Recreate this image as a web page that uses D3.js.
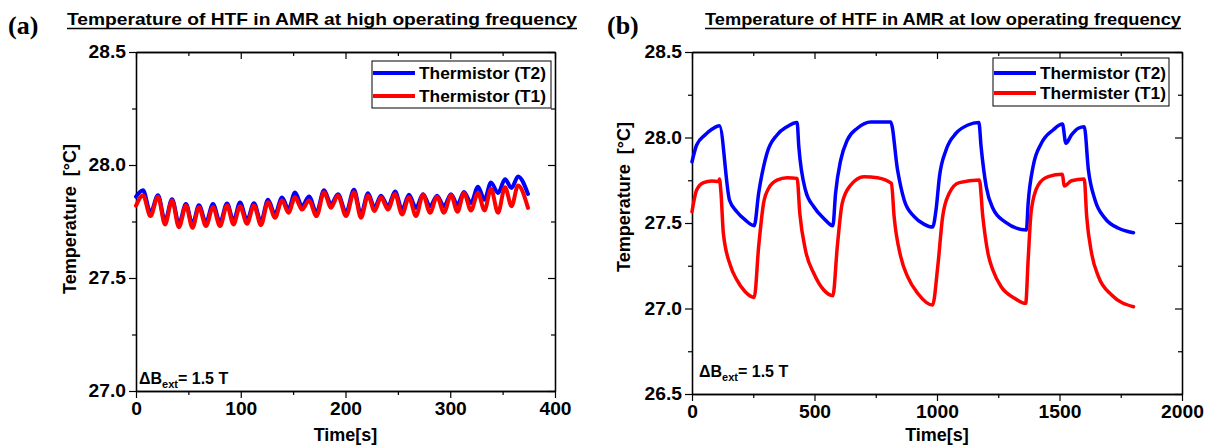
<!DOCTYPE html>
<html>
<head>
<meta charset="utf-8">
<script src="https://cdn.jsdelivr.net/npm/d3@7"></script>
<style>
    body { margin: 0; background: #fff; }
    svg { display: block; font-family: "Liberation Sans", Arial, sans-serif; }
</style>
</head>
<body>
<svg id="chart" width="1207" height="446"></svg>
<script>
// (a) high operating frequency - at peaks / troughs
const timeA = [0, 6.7, 13.8, 21.0, 27.7, 34.4, 41.0, 47.7, 53.9, 60.1,
    66.8, 73.5, 80.2, 86.9, 93.1, 99.3, 106.0, 112.6, 119.3, 126.0,
    132.7, 139.4, 145.6, 151.8, 158.5, 165.2, 172.3, 179.5, 186.2, 192.8,
    200.5, 208.1, 214.8, 221.5, 227.7, 233.9, 240.6, 247.3, 254.0, 260.6,
    267.3, 274.0, 280.7, 287.4, 294.0, 300.7, 306.9, 313.1, 319.8, 326.5,
    332.7, 338.9, 345.6, 352.3, 358.5, 364.7, 374.2]
const t2A = [27.860, 27.888, 27.789, 27.866, 27.752, 27.849, 27.740, 27.827, 27.737, 27.822,
    27.745, 27.827, 27.745, 27.830, 27.752, 27.834, 27.755, 27.831, 27.749, 27.846,
    27.782, 27.856, 27.804, 27.878, 27.818, 27.861, 27.789, 27.888, 27.826, 27.871,
    27.789, 27.890, 27.782, 27.875, 27.811, 27.864, 27.817, 27.883, 27.802, 27.868,
    27.810, 27.871, 27.817, 27.864, 27.817, 27.871, 27.824, 27.881, 27.832, 27.904,
    27.846, 27.923, 27.876, 27.937, 27.898, 27.949, 27.872]
const t1A = [27.820, 27.865, 27.774, 27.860, 27.737, 27.843, 27.725, 27.821, 27.722, 27.813,
    27.730, 27.813, 27.730, 27.821, 27.737, 27.817, 27.740, 27.821, 27.734, 27.835,
    27.767, 27.843, 27.789, 27.857, 27.803, 27.843, 27.774, 27.879, 27.811, 27.865,
    27.774, 27.879, 27.767, 27.865, 27.796, 27.857, 27.803, 27.872, 27.781, 27.857,
    27.774, 27.869, 27.789, 27.860, 27.789, 27.867, 27.793, 27.876, 27.799, 27.876,
    27.799, 27.894, 27.789, 27.902, 27.818, 27.909, 27.810]

// (b) low operating frequency
const timeB2 = [0, 19, 53, 81, 112, 153, 183, 217, 254, 272, 306, 347, 388, 429, 436,
    463, 497, 538, 575, 586, 607, 634, 675, 730, 811, 839, 866, 907, 948, 982,
    996, 1010, 1037, 1078, 1126, 1171, 1180, 1201, 1228, 1276, 1365, 1372, 1392, 1426, 1474,
    1512, 1526, 1549, 1577, 1601, 1618, 1645, 1686, 1741, 1802]
const t2B = [27.858, 27.956, 28.015, 28.048, 28.069, 27.635, 27.566, 27.518, 27.484, 27.674,
    27.908, 28.015, 28.063, 28.087, 27.946, 27.693, 27.595, 27.527, 27.484, 27.674,
    27.868, 27.985, 28.054, 28.091, 28.091, 27.810, 27.635, 27.537, 27.492, 27.476,
    27.576, 27.771, 27.927, 28.025, 28.073, 28.087, 27.946, 27.712, 27.586, 27.508,
    27.459, 27.615, 27.829, 27.966, 28.044, 28.079, 27.966, 28.015, 28.054, 28.063,
    27.810, 27.635, 27.527, 27.469, 27.443]
const timeB1 = [0, 19, 47, 81, 108, 112, 118, 128, 156, 183,
    217, 254, 272, 292, 313, 347, 388, 429, 440, 463,
    497, 538, 575, 593, 613, 648, 702, 757, 814, 825,
    852, 880, 921, 982, 1003, 1023, 1050, 1091, 1173, 1187,
    1208, 1228, 1262, 1317, 1362, 1372, 1385, 1413, 1454, 1512,
    1519, 1549, 1601, 1611, 1631, 1659, 1713, 1802]
const t1B = [27.566, 27.693, 27.736, 27.746, 27.742, 27.757, 27.683, 27.440, 27.254, 27.167,
    27.098, 27.065, 27.361, 27.615, 27.703, 27.751, 27.765, 27.761, 27.557, 27.342,
    27.206, 27.108, 27.075, 27.361, 27.615, 27.722, 27.771, 27.765, 27.732, 27.537,
    27.303, 27.186, 27.089, 27.020, 27.244, 27.537, 27.674, 27.736, 27.751, 27.537,
    27.323, 27.225, 27.127, 27.060, 27.030, 27.284, 27.576, 27.722, 27.771, 27.785,
    27.716, 27.747, 27.757, 27.537, 27.323, 27.186, 27.079, 27.010]

const xTicksA = [0, 100, 200, 300, 400]
const xMinorA = [50, 150, 250, 350]
const yTicksA = [27.0, 27.5, 28.0, 28.5]
const yMinorA = [27.25, 27.75, 28.25]
const xTicksB = [0, 500, 1000, 1500, 2000]
const xMinorB = [250, 750, 1250, 1750]
const yTicksB = [26.5, 27.0, 27.5, 28.0, 28.5]
const yMinorB = [26.75, 27.25, 27.75, 28.25]

const svg = d3.select('#chart')

drawPanel({
    left: 136, right: 555, top: 52, bottom: 391,
    xDomain: [0, 400], yDomain: [27.0, 28.5],
    xTicks: xTicksA, xMinor: xMinorA, yTicks: yTicksA, yMinor: yMinorA,
    series: [
        { t: timeA, v: t2A, color: '#0000ff' },
        { t: timeA, v: t1A, color: '#ff0000' }
    ],
    lineWidth: 4,
    letter: '(a)', letterX: 8,
    title: 'Temperature of HTF in AMR at high operating frequency', titleX: 67, titleW: 510,
    legend: { x: 372, y: 61, w: 179, h: 47, rows: [73, 96], textW: 127, names: ['Thermistor (T2)', 'Thermistor (T1)'] },
    yTitleX: 70, yTitleY: 219,
    noteX: 139, noteY: 384
})

drawPanel({
    left: 692, right: 1182, top: 52, bottom: 394,
    xDomain: [0, 2000], yDomain: [26.5, 28.5],
    xTicks: xTicksB, xMinor: xMinorB, yTicks: yTicksB, yMinor: yMinorB,
    series: [
        { t: timeB2, v: t2B, color: '#0000ff' },
        { t: timeB1, v: t1B, color: '#ff0000' }
    ],
    lineWidth: 3.5,
    letter: '(b)', letterX: 607,
    title: 'Temperature of HTF in AMR at low operating frequency', titleX: 705, titleW: 476,
    legend: { x: 993, y: 58, w: 176, h: 48, rows: [73, 93], textW: 126, names: ['Thermistor (T2)', 'Thermister (T1)'] },
    yTitleX: 624, yTitleY: 197,
    noteX: 699, noteY: 377
})

function styleAxis(sel) {
    sel.select('.domain').attr('stroke', '#000').attr('stroke-width', 1.3)
    sel.selectAll('.tick line').attr('stroke', '#000').attr('stroke-width', 1.2)
    sel.selectAll('.tick text')
        .attr('fill', '#000')
        .style('font-size', '17.5px')
        .style('font-weight', 'bold')
        .style('font-family', '"Liberation Sans", Arial, sans-serif')
        .each(function () {
            // the source glyphs are a bit wider than Liberation Sans
            const w = this.getComputedTextLength()
            if (w > 0) d3.select(this).attr('textLength', w * 1.1).attr('lengthAdjust', 'spacingAndGlyphs')
        })
}

function drawPanel(p) {
    const x = d3.scaleLinear().domain(p.xDomain).range([p.left, p.right])
    const y = d3.scaleLinear().domain(p.yDomain).range([p.bottom, p.top])

    const g = svg.append('g')

    // minor ticks first, majors on top
    g.append('g').attr('transform', `translate(0,${p.bottom})`)
        .call(d3.axisBottom(x).tickValues(p.xMinor).tickSize(4).tickSizeOuter(0).tickFormat(''))
        .call(styleAxis)
    g.append('g').attr('transform', `translate(0,${p.top})`)
        .call(d3.axisTop(x).tickValues(p.xMinor).tickSize(-4).tickSizeOuter(0).tickFormat(''))
        .call(styleAxis)
    g.append('g').attr('transform', `translate(${p.left},0)`)
        .call(d3.axisLeft(y).tickValues(p.yMinor).tickSize(4).tickSizeOuter(0).tickFormat(''))
        .call(styleAxis)
    g.append('g').attr('transform', `translate(${p.right},0)`)
        .call(d3.axisRight(y).tickValues(p.yMinor).tickSize(-4).tickSizeOuter(0).tickFormat(''))
        .call(styleAxis)

    g.append('g').attr('transform', `translate(0,${p.bottom})`)
        .call(d3.axisBottom(x).tickValues(p.xTicks).tickSize(7).tickSizeOuter(0).tickPadding(5).tickFormat(d3.format('d')))
        .call(styleAxis)
    g.append('g').attr('transform', `translate(0,${p.top})`)
        .call(d3.axisTop(x).tickValues(p.xTicks).tickSize(-7).tickSizeOuter(0).tickFormat(''))
        .call(styleAxis)
    g.append('g').attr('transform', `translate(${p.left},0)`)
        .call(d3.axisLeft(y).tickValues(p.yTicks).tickSize(7).tickSizeOuter(0).tickPadding(3).tickFormat(d3.format('.1f')))
        .call(styleAxis)
    g.append('g').attr('transform', `translate(${p.right},0)`)
        .call(d3.axisRight(y).tickValues(p.yTicks).tickSize(-7).tickSizeOuter(0).tickFormat(''))
        .call(styleAxis)

    // curves
    p.series.forEach(s => {
        const pts = s.t.map((t, i) => [t, s.v[i]])
        const line = d3.line()
            .x(d => x(d[0]))
            .y(d => y(d[1]))
            .curve(d3.curveMonotoneX)
        g.append('path')
            .datum(pts)
            .attr('d', line)
            .attr('fill', 'none')
            .attr('stroke', s.color)
            .attr('stroke-width', p.lineWidth)
            .attr('stroke-linejoin', 'round')
            .attr('stroke-linecap', 'round')
    })

    // legend
    const lg = g.append('g')
    lg.append('rect')
        .attr('x', p.legend.x).attr('y', p.legend.y)
        .attr('width', p.legend.w).attr('height', p.legend.h)
        .attr('fill', '#fff').attr('stroke', '#000').attr('stroke-width', 1)
    p.series.forEach((s, i) => {
        const ly = p.legend.rows[i]
        lg.append('line')
            .attr('x1', p.legend.x + 1).attr('x2', p.legend.x + 43)
            .attr('y1', ly).attr('y2', ly)
            .attr('stroke', s.color).attr('stroke-width', 4)
        lg.append('text')
            .attr('x', p.legend.x + 47).attr('y', ly + 6)
            .attr('textLength', p.legend.textW)
            .attr('lengthAdjust', 'spacingAndGlyphs')
            .text(p.legend.names[i])
            .style('font-size', '16.5px').style('font-weight', 'bold')
    })

    // axis titles
    g.append('text')
        .attr('x', (p.left + p.right) / 2).attr('y', 441)
        .attr('text-anchor', 'middle')
        .text('Time[s]')
        .style('font-size', '18px').style('font-weight', 'bold')
    g.append('text')
        .attr('transform', `translate(${p.yTitleX},${p.yTitleY}) rotate(-90)`)
        .attr('text-anchor', 'middle')
        .attr('dy', '0.35em')
        .style('white-space', 'pre')
        .text('Temperature  [°C]')
        .style('font-size', '18px').style('font-weight', 'bold')

    // panel letter and underlined title
    g.append('text')
        .attr('x', p.letterX).attr('y', 34)
        .text(p.letter)
        .style('font-family', '"Liberation Serif", "Times New Roman", serif')
        .style('font-size', '26px').style('font-weight', 'bold')
    g.append('text')
        .attr('x', p.titleX).attr('y', 25)
        .attr('textLength', p.titleW)
        .attr('lengthAdjust', 'spacingAndGlyphs')
        .text(p.title)
        .style('font-size', '16.5px').style('font-weight', 'bold')
    g.append('line')
        .attr('x1', p.titleX).attr('x2', p.titleX + p.titleW)
        .attr('y1', 28.5).attr('y2', 28.5)
        .attr('stroke', '#000').attr('stroke-width', 1.4)

    // field note
    const note = g.append('text')
        .attr('x', p.noteX).attr('y', p.noteY)
        .style('font-size', '16px').style('font-weight', 'bold')
    note.append('tspan').text('ΔB')
    note.append('tspan').attr('dy', 4).style('font-size', '11px').text('ext')
    note.append('tspan').attr('dy', -4).text('= 1.5 T')
}
</script>
</body>
</html>
